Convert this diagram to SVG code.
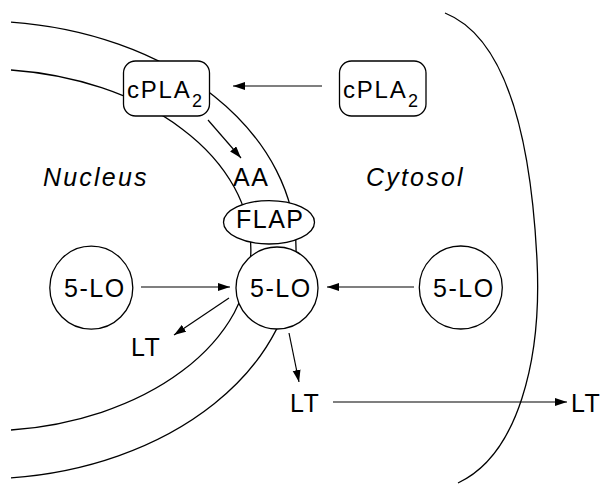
<svg xmlns="http://www.w3.org/2000/svg" width="604" height="485" viewBox="0 0 604 485">
<style>
.ln{fill:none;stroke:#000;stroke-width:1.3}
.nd{fill:#fff;stroke:#000;stroke-width:1.3}
.t{font-family:"Liberation Sans",Arial,sans-serif;font-size:25px;letter-spacing:1.5px;fill:#000}
.c{font-size:24px;letter-spacing:1.8px}
.it{font-family:"Liberation Sans",Arial,sans-serif;font-size:25px;font-style:italic;letter-spacing:2.2px;fill:#000}
.ar{fill:none;stroke:#000;stroke-width:1.2;marker-end:url(#ah)}
</style>
<defs>
<marker id="ah" markerUnits="userSpaceOnUse" markerWidth="13" markerHeight="9" refX="12" refY="4" orient="auto">
<path d="M0,0 L12,4 L0,8 Z" fill="#000"/>
</marker>
</defs>
<g id="membranes">
<path class="ln" d="M11,22.1 A316,229 0 0 1 11,477.9"/>
<path class="ln" d="M11,70 A268,181 0 0 1 11,430"/>
<path class="ln" d="M445,13 C500,35 530,120 537,260 C542,360 518,455 458,483"/>
</g>
<g id="labels">
<text class="it" x="43" y="185.5">Nucleus</text>
<text class="it" x="366" y="185.5">Cytosol</text>
</g>
<g id="connectors">
<line class="ar" x1="322" y1="86" x2="233" y2="86"/>
<line class="ar" x1="208" y1="120" x2="241" y2="158"/>
<line class="ar" x1="141" y1="287" x2="230" y2="287"/>
<line class="ar" x1="414" y1="287" x2="327" y2="287"/>
<line class="ar" x1="229" y1="298" x2="174" y2="335"/>
<line class="ar" x1="289" y1="333" x2="299" y2="382"/>
<line class="ar" x1="333" y1="402" x2="567" y2="402"/>
</g>
<g id="cpla2-membrane">
<rect class="nd" x="123.5" y="61" width="86" height="55" rx="12"/>
<text class="t c" x="127" y="98.3">cPLA<tspan x="192" y="106.5" font-size="18" letter-spacing="0">2</tspan></text>
</g>
<g id="cpla2-cytosol">
<rect class="nd" x="339.5" y="61" width="86.5" height="55" rx="12"/>
<text class="t c" x="343" y="98.3">cPLA<tspan x="408" y="106.5" font-size="18" letter-spacing="0">2</tspan></text>
</g>
<g id="aa">
<text class="t" x="233" y="186" letter-spacing="2.5">AA</text>
</g>
<g id="flap">
<ellipse class="nd" cx="269" cy="222.3" rx="45.5" ry="21.7"/>
<text class="t" x="236" y="228" letter-spacing="0.5">FLAP</text>
</g>
<g id="lo-center">
<circle class="nd" cx="277" cy="288" r="41"/>
<text class="t" x="250" y="297">5-LO</text>
</g>
<g id="lo-nucleus">
<circle class="nd" cx="91.3" cy="287.7" r="41.5"/>
<text class="t" x="64" y="297">5-LO</text>
</g>
<g id="lo-cytosol">
<circle class="nd" cx="460.8" cy="287.5" r="41.5"/>
<text class="t" x="433" y="297">5-LO</text>
</g>
<g id="lt-nucleus">
<text class="t" x="131" y="356" letter-spacing="2.5">LT</text>
</g>
<g id="lt-cytosol">
<text class="t" x="290" y="412" letter-spacing="2.5">LT</text>
</g>
<g id="lt-out">
<text class="t" x="571" y="412" letter-spacing="2.5">LT</text>
</g>
</svg>
